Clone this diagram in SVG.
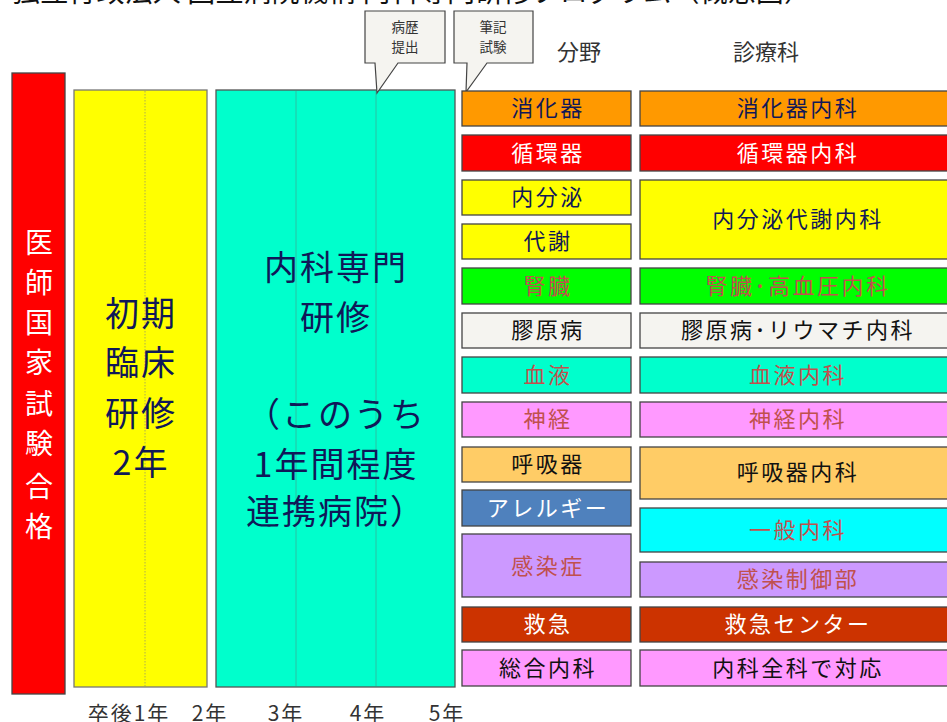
<svg xmlns="http://www.w3.org/2000/svg" width="947" height="722" viewBox="0 0 947 722">
<style>
text{font-family:"Noto Sans CJK JP","Noto Sans",sans-serif;}
.box{stroke:#444;stroke-width:1.3;}
.lbl{font-size:22px;text-anchor:middle;letter-spacing:2.5px;}
.navy{fill:#101858;}
.red{fill:#C0504D;}
.wht{fill:#FFFFFF;}
.blk{fill:#111111;}
.yr{font-size:21px;fill:#333;text-anchor:middle;letter-spacing:2px;}
.call{fill:#F5F4F0;stroke:#444;stroke-width:1.2;}
.ct{font-size:13.5px;fill:#333;text-anchor:middle;}
.big{font-size:34px;fill:#101858;text-anchor:middle;letter-spacing:2px;}
</style>
<rect width="947" height="722" fill="#FFFFFF"/>
<g id="title"><text x="12" y="2" font-size="28" fill="#111" textLength="800">独立行政法人 国立病院機構 内科専門研修プログラム（概念図）</text></g>

<g id="exam">
<rect class="box" x="12" y="73" width="53" height="621" fill="#FF0000"/>
<g font-size="28" fill="#FFFFFF" text-anchor="middle">
<text x="39" y="253">医</text><text x="39" y="293">師</text><text x="39" y="333">国</text><text x="39" y="373">家</text><text x="39" y="414">試</text><text x="39" y="454">験</text><text x="39" y="497">合</text><text x="39" y="537">格</text>
</g>
</g>

<g id="initial">
<rect x="74" y="90" width="133" height="597" fill="#FFFF00" stroke="#777" stroke-width="1.3"/>
<line x1="145" y1="91" x2="145" y2="686" stroke="#999966" stroke-width="0.8" stroke-dasharray="1.5,1.5"/>
<text class="big" x="141" y="326">初期</text>
<text class="big" x="141" y="375">臨床</text>
<text class="big" x="141" y="426">研修</text>
<text class="big" x="141" y="475">2年</text>
</g>

<g id="specialist">
<rect x="216" y="90" width="239" height="597" fill="#00FFCC" stroke="#555" stroke-width="1.3"/>
<line x1="296" y1="91" x2="296" y2="686" stroke="#33B39A" stroke-width="0.8"/>
<line x1="376" y1="91" x2="376" y2="686" stroke="#33B39A" stroke-width="0.8"/>
<text class="big" x="336" y="280">内科専門</text>
<text class="big" x="336" y="330">研修</text>
<text class="big" x="336" y="427">（このうち</text>
<text class="big" x="336" y="477">1年間程度</text>
<text class="big" x="336" y="524">連携病院）</text>
</g>

<g id="callout-history">
<path class="call" d="M365,11 H445 V63 H398 L377,93 L375,63 H365 Z"/>
<text class="ct" x="405" y="32">病歴</text>
<text class="ct" x="405" y="52">提出</text>
</g>
<g id="callout-exam">
<path class="call" d="M454,11 H533 V63 H487 L466,92 L467,63 H454 Z"/>
<text class="ct" x="493" y="32">筆記</text>
<text class="ct" x="493" y="52">試験</text>
</g>

<g id="headers">
<text x="579" y="60" font-size="22" fill="#333" text-anchor="middle">分野</text>
<text x="766" y="60" font-size="22" fill="#333" text-anchor="middle">診療科</text>
</g>

<g id="fields">
<g id="f1"><rect class="box" x="462" y="91" width="169" height="35" fill="#FF9900"/><text class="lbl navy" x="548" y="116">消化器</text></g>
<g id="f2"><rect class="box" x="462" y="135" width="169" height="36" fill="#FF0000"/><text class="lbl wht" x="548" y="161">循環器</text></g>
<g id="f3"><rect class="box" x="462" y="180" width="169" height="35" fill="#FFFF00"/><text class="lbl navy" x="548" y="205">内分泌</text></g>
<g id="f4"><rect class="box" x="462" y="224" width="169" height="35" fill="#FFFF00"/><text class="lbl navy" x="548" y="249">代謝</text></g>
<g id="f5"><rect class="box" x="462" y="268" width="169" height="36" fill="#00FF00"/><text class="lbl red" x="548" y="294">腎臓</text></g>
<g id="f6"><rect class="box" x="462" y="313" width="169" height="35" fill="#F5F4F0"/><text class="lbl blk" x="548" y="338">膠原病</text></g>
<g id="f7"><rect class="box" x="462" y="357" width="169" height="36" fill="#00FFCC"/><text class="lbl red" x="548" y="383">血液</text></g>
<g id="f8"><rect class="box" x="462" y="402" width="169" height="35" fill="#FF99FF"/><text class="lbl red" x="548" y="427">神経</text></g>
<g id="f9"><rect class="box" x="462" y="447" width="169" height="35" fill="#FFCC66"/><text class="lbl blk" x="548" y="472">呼吸器</text></g>
<g id="f10"><rect class="box" x="462" y="490" width="169" height="36" fill="#4F81BD"/><text class="lbl wht" x="548" y="516">アレルギー</text></g>
<g id="f11"><rect class="box" x="462" y="534" width="169" height="63" fill="#CC99FF"/><text class="lbl red" x="548" y="574">感染症</text></g>
<g id="f12"><rect class="box" x="462" y="607" width="169" height="35" fill="#CC3300"/><text class="lbl wht" x="548" y="632">救急</text></g>
<g id="f13"><rect class="box" x="462" y="650" width="169" height="36" fill="#FF99FF"/><text class="lbl blk" x="548" y="676">総合内科</text></g>
</g>

<g id="departments">
<g id="d1"><rect class="box" x="640" y="91" width="320" height="35" fill="#FF9900"/><text class="lbl navy" x="798" y="116">消化器内科</text></g>
<g id="d2"><rect class="box" x="640" y="135" width="320" height="36" fill="#FF0000"/><text class="lbl wht" x="798" y="161">循環器内科</text></g>
<g id="d3"><rect class="box" x="640" y="180" width="320" height="79" fill="#FFFF00"/><text class="lbl navy" x="798" y="227">内分泌代謝内科</text></g>
<g id="d4"><rect class="box" x="640" y="268" width="320" height="36" fill="#00FF00"/><text class="lbl red" x="798" y="294">腎臓･高血圧内科</text></g>
<g id="d5"><rect class="box" x="640" y="313" width="320" height="35" fill="#F5F4F0"/><text class="lbl blk" x="798" y="338">膠原病･リウマチ内科</text></g>
<g id="d6"><rect class="box" x="640" y="357" width="320" height="36" fill="#00FFCC"/><text class="lbl red" x="798" y="383">血液内科</text></g>
<g id="d7"><rect class="box" x="640" y="402" width="320" height="35" fill="#FF99FF"/><text class="lbl red" x="798" y="427">神経内科</text></g>
<g id="d8"><rect class="box" x="640" y="447" width="320" height="52" fill="#FFCC66"/><text class="lbl blk" x="798" y="480">呼吸器内科</text></g>
<g id="d9"><rect class="box" x="640" y="508" width="320" height="44" fill="#00FFFF"/><text class="lbl red" x="798" y="538">一般内科</text></g>
<g id="d10"><rect class="box" x="640" y="562" width="320" height="35" fill="#CC99FF"/><text class="lbl red" x="798" y="587">感染制御部</text></g>
<g id="d11"><rect class="box" x="640" y="607" width="320" height="35" fill="#CC3300"/><text class="lbl wht" x="798" y="632">救急センター</text></g>
<g id="d12"><rect class="box" x="640" y="650" width="320" height="36" fill="#FF99FF"/><text class="lbl blk" x="798" y="676">内科全科で対応</text></g>
</g>

<g id="years">
<text class="yr" x="129" y="721">卒後1年</text>
<text class="yr" x="210" y="721">2年</text>
<text class="yr" x="286" y="721">3年</text>
<text class="yr" x="368" y="721">4年</text>
<text class="yr" x="447" y="721">5年</text>
</g>
<g id="connectors"></g>
</svg>
